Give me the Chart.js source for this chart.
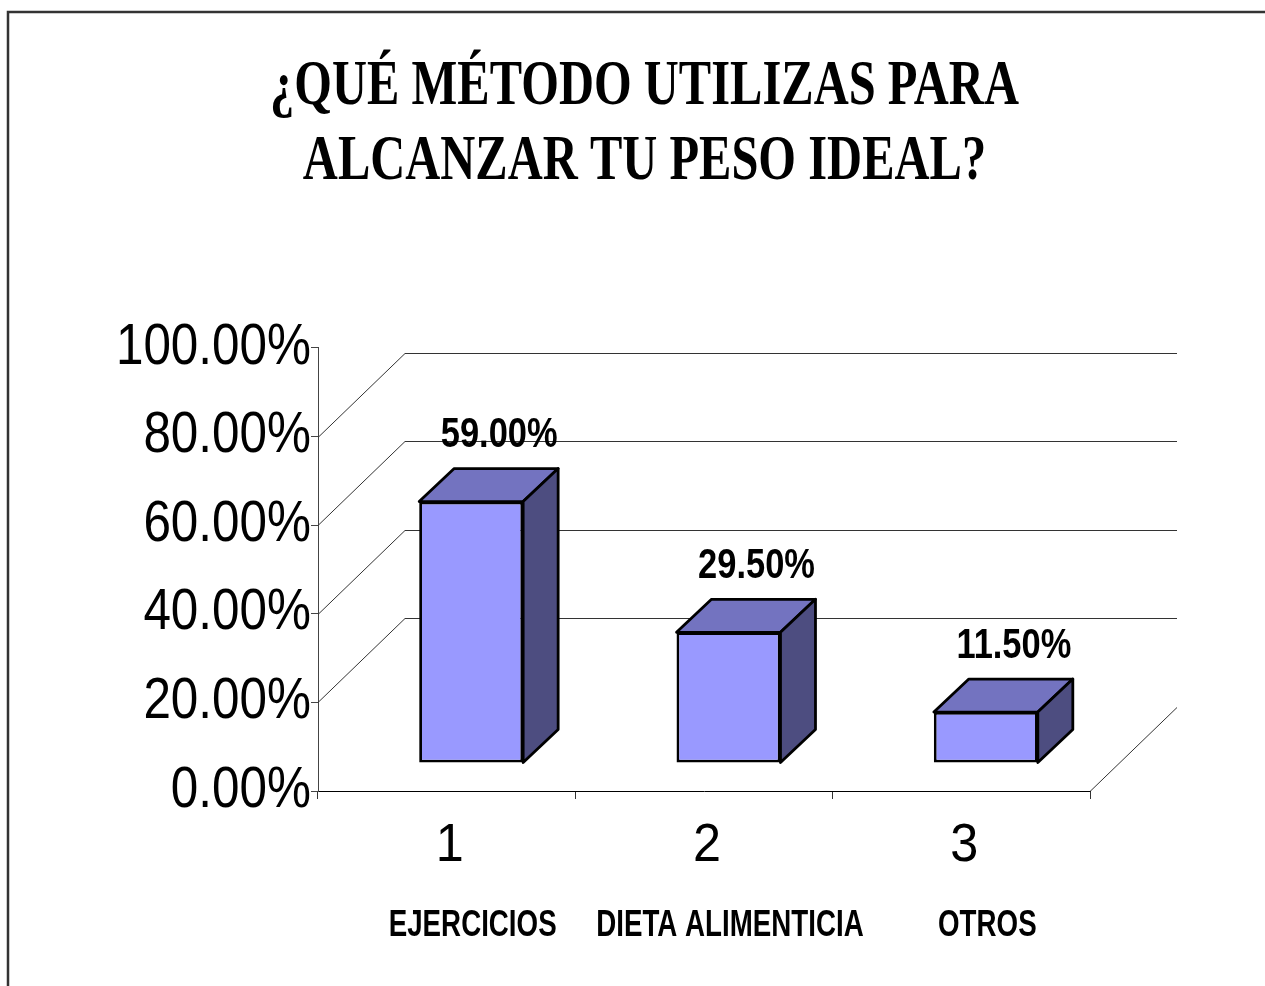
<!DOCTYPE html>
<html>
<head>
<meta charset="utf-8">
<script src="https://cdn.jsdelivr.net/npm/chart.js@4.4.1/dist/chart.umd.min.js"></script>
<style>
  html, body { margin: 0; padding: 0; background: #ffffff; }
  #wrap { width: 1265px; height: 986px; }
</style>
</head>
<body>
<div id="wrap"><canvas id="c" width="1265" height="986"></canvas></div>
<script>
// ---- data ----
const titleLines = ['¿QUÉ MÉTODO UTILIZAS PARA', 'ALCANZAR TU PESO IDEAL?'];
const indexLabels = ['1', '2', '3'];
const categories = ['EJERCICIOS', 'DIETA ALIMENTICIA', 'OTROS'];
const values = [59.0, 29.5, 11.5];
const yTickValues = [0, 20, 40, 60, 80, 100];
const backGridValues = [20, 40, 60, 80];

// ---- horizontal squeeze of text by font size (mimics condensed original) ----
const squeezeBySize = { 63: 0.77, 57: 0.867, 53: 0.95, 42: 0.82, 36: 0.77 };
(function () {
  const proto = CanvasRenderingContext2D.prototype;
  const orig = proto.fillText;
  proto.fillText = function (t, x, y, mw) {
    const m = /(\d+(?:\.\d+)?)px/.exec(this.font);
    const sx = m ? squeezeBySize[Math.round(parseFloat(m[1]))] : undefined;
    if (!sx) return mw === undefined ? orig.call(this, t, x, y) : orig.call(this, t, x, y, mw);
    this.save();
    this.translate(x, y);
    this.scale(sx, 1);
    if (mw === undefined) orig.call(this, t, 0, 0); else orig.call(this, t, 0, 0, mw / sx);
    this.restore();
  };
})();

// 3D geometry
const DEPTH_X = 87, DEPTH_Y = -84;       // wall depth
const BAR_SHIFT_X = 24.5, BAR_SHIFT_Y = -28; // bar front face depth position
const BAR_DX = 35, BAR_DY = -33;          // bar depth

const threeD = {
  id: 'threeD',
  beforeDraw(chart) {
    const ctx = chart.ctx;
    ctx.save();
    ctx.strokeStyle = '#333333';
    ctx.lineWidth = 2.5;
    ctx.beginPath();
    ctx.moveTo(8, 986);
    ctx.lineTo(8, 12);
    ctx.lineTo(1265, 12);
    ctx.stroke();
    ctx.restore();
  },
  beforeDatasetsDraw(chart) {
    const ctx = chart.ctx;
    const ys = chart.scales.y;
    const a = chart.chartArea;
    ctx.save();
    ctx.lineWidth = 1;
    ctx.strokeStyle = '#333333';
    backGridValues.forEach(v => {
      const py = Math.round(ys.getPixelForValue(v)) + 0.5;
      ctx.beginPath();
      ctx.moveTo(a.left, py);
      ctx.lineTo(a.left + DEPTH_X, py + DEPTH_Y);
      ctx.lineTo(a.right + DEPTH_X, py + DEPTH_Y);
      ctx.stroke();
    });
    const pb = Math.round(ys.getPixelForValue(0)) + 0.5;
    ctx.beginPath();
    ctx.moveTo(a.right, pb);
    ctx.lineTo(a.right + DEPTH_X, pb + DEPTH_Y);
    ctx.stroke();
    ctx.restore();
    ctx.save();
    ctx.translate(BAR_SHIFT_X, BAR_SHIFT_Y);
  },
  afterDatasetsDraw(chart) {
    const ctx = chart.ctx;
    const meta = chart.getDatasetMeta(0);
    meta.data.forEach(bar => {
      const p = bar.getProps(['x', 'y', 'base', 'width'], true);
      const l = p.x - p.width / 2, r = p.x + p.width / 2, t = p.y, b = p.base;
      ctx.lineWidth = 2.8;
      ctx.lineJoin = 'round';
      ctx.strokeStyle = '#000000';
      // top face
      ctx.beginPath();
      ctx.moveTo(l, t);
      ctx.lineTo(l + BAR_DX, t + BAR_DY);
      ctx.lineTo(r + BAR_DX, t + BAR_DY);
      ctx.lineTo(r, t);
      ctx.closePath();
      ctx.fillStyle = '#7373C0';
      ctx.fill();
      ctx.stroke();
      // side face
      ctx.beginPath();
      ctx.moveTo(r, t);
      ctx.lineTo(r + BAR_DX, t + BAR_DY);
      ctx.lineTo(r + BAR_DX, b + BAR_DY);
      ctx.lineTo(r, b);
      ctx.closePath();
      ctx.fillStyle = '#4D4D80';
      ctx.fill();
      ctx.stroke();
    });
    ctx.restore();
    // data labels
    ctx.save();
    ctx.fillStyle = '#000000';
    ctx.font = 'bold 42px "Liberation Sans", Arial, sans-serif';
    ctx.textAlign = 'center';
    ctx.textBaseline = 'middle';
    meta.data.forEach((bar, i) => {
      const p = bar.getProps(['x', 'y'], true);
      ctx.fillText(values[i].toFixed(2) + '%', p.x + BAR_SHIFT_X + 28, p.y + BAR_SHIFT_Y - 66);
    });
    ctx.restore();
  }
};

Chart.defaults.font.family = '"Liberation Sans", Arial, sans-serif';
Chart.defaults.color = '#000000';

new Chart(document.getElementById('c'), {
  type: 'bar',
  data: {
    labels: indexLabels,
    datasets: [{
      data: values,
      backgroundColor: '#9999FF',
      borderColor: '#000000',
      borderWidth: 2.8,
      borderSkipped: false,
      barPercentage: 1,
      categoryPercentage: 0.404,
      clip: false
    }]
  },
  options: {
    responsive: false,
    animation: false,
    devicePixelRatio: 1,
    layout: { padding: { left: 24, right: 0, top: 0, bottom: 39 } },
    plugins: {
      legend: { display: false },
      tooltip: { enabled: false },
      title: {
        display: true,
        text: titleLines,
        color: '#000000',
        font: { family: '"Liberation Serif", "Times New Roman", serif', size: 63, weight: 'bold', lineHeight: 1.19 },
        padding: { top: 50, bottom: 148 }
      }
    },
    scales: {
      x: {
        position: 'bottom',
        weight: 0,
        offset: true,
        grid: { display: true, drawOnChartArea: false, drawTicks: true, tickLength: 8, color: '#333333', offset: true },
        border: { display: true, color: '#000000', width: 1 },
        ticks: { font: { size: 53 }, padding: 16, labelOffset: 3, maxRotation: 0, minRotation: 0, autoSkip: false },
        afterFit(s) { s.height = 88; }
      },
      x2: {
        type: 'category',
        labels: categories,
        position: 'bottom',
        weight: 1,
        offset: true,
        grid: { display: false, drawTicks: false },
        border: { display: false },
        ticks: { font: { size: 36, weight: 'bold' }, padding: 25, labelOffset: 26, maxRotation: 0, minRotation: 0, autoSkip: false },
        afterFit(s) { s.height = 68; }
      },
      y: {
        position: 'left',
        min: 0,
        max: 100,
        afterBuildTicks(s) { s.ticks = yTickValues.map(v => ({ value: v })); },
        grid: { display: true, drawOnChartArea: false, drawTicks: true, tickLength: 7, color: '#444444' },
        border: { display: true, color: '#444444', width: 1 },
        ticks: {
          font: { size: 57 },
          padding: 0,
          callback: v => Number(v).toFixed(2) + '%'
        },
        afterFit(s) { s.width = 294; }
      },
      yR: {
        type: 'linear',
        position: 'right',
        display: true,
        min: 0,
        max: 1,
        grid: { display: false, drawTicks: false },
        border: { display: false },
        ticks: { display: false },
        afterFit(s) { s.width = 175; }
      }
    }
  },
  plugins: [threeD]
});
</script>
</body>
</html>
